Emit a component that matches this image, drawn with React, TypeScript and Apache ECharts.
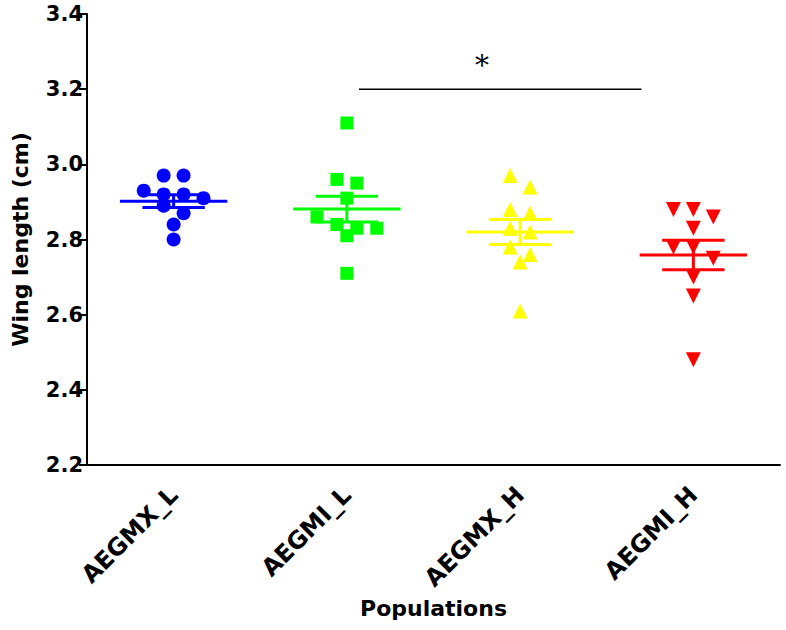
import React, { useEffect, useRef } from "react";
import * as echarts from "echarts";

// ---- data ----
const categories = ["AEGMX_L", "AEGMI_L", "AEGMX_H", "AEGMI_H"];
const aegmxL = [2.97, 2.97, 2.93, 2.92, 2.92, 2.91, 2.89, 2.87, 2.84, 2.8];
const aegmiL = [3.11, 2.96, 2.95, 2.91, 2.86, 2.84, 2.83, 2.83, 2.81, 2.71];
const aegmxH = [2.97, 2.94, 2.88, 2.87, 2.83, 2.82, 2.78, 2.76, 2.74, 2.61];
const aegmiH = [2.88, 2.88, 2.86, 2.83, 2.78, 2.78, 2.75, 2.7, 2.65, 2.48];
const groups = [aegmxL, aegmiL, aegmxH, aegmiH];
const yMin = 2.2;
const yMax = 3.4;
const yStep = 0.2;
const sigFrom = 1;
const sigTo = 3;
const sigY = 3.2;
const sigLabel = "*";

// ---- styles ----
const colors = ["#0000ff", "#00ff00", "#ffff00", "#ff0000"];
const symbols = ["circle", "rect", "triangle", "triangle"];
const symbolRot = [0, 0, 0, 180];
const symbolSizes = [14, 13, 15, 15];
const FONT = "DejaVu Sans";

function swarm(vals: number[], thr: number, step: number): [number, number][] {
  const sorted = [...vals].sort((a, b) => b - a);
  const rows: number[][] = [];
  let cur: number[] = [];
  let start = Infinity;
  for (const v of sorted) {
    if (cur.length === 0 || start - v > thr) {
      if (cur.length) rows.push(cur);
      cur = [v];
      start = v;
    } else cur.push(v);
  }
  if (cur.length) rows.push(cur);
  const out: [number, number][] = [];
  rows.forEach((r) => {
    const n = r.length;
    r.forEach((v, k) => out.push([(k - (n - 1) / 2) * step, v]));
  });
  return out;
}

function mean(a: number[]) {
  return a.reduce((s, v) => s + v, 0) / a.length;
}
function sem(a: number[]) {
  const m = mean(a);
  const sd = Math.sqrt(a.reduce((s, v) => s + (v - m) * (v - m), 0) / (a.length - 1));
  return sd / Math.sqrt(a.length);
}

export default function App() {
  const ref = useRef<HTMLDivElement>(null);
  useEffect(() => {
    if (!ref.current) return;
    const chart = echarts.init(ref.current, null, { renderer: "svg" });
    const scatterSeries = groups.map((g, i) => ({
      type: "scatter",
      xAxisIndex: 1,
      symbol: symbols[i],
      symbolRotate: symbolRot[i],
      symbolSize: symbolSizes[i],
      itemStyle: { color: colors[i], opacity: 1 },
      z: 2,
      data: swarm(g, 0.035, 0.115).map(([dx, v]) => [i + dx, v]),
    }));
    const statData = groups.map((g, i) => [i, mean(g), sem(g)]);
    const option: any = {
      animation: false,
      grid: { left: 87, right: 6, top: 14, bottom: 165 },
      xAxis: [
        {
          type: "category",
          data: categories,
          boundaryGap: true,
          axisLine: { onZero: false, lineStyle: { color: "#000", width: 2 } },
          axisTick: { alignWithLabel: true, length: 8, lineStyle: { color: "#000", width: 2 } },
          axisLabel: {
            rotate: 45,
            color: "#000",
            fontSize: 24,
            fontWeight: "bold",
            fontFamily: FONT,
            margin: 26,
          },
          name: "Populations",
          nameLocation: "middle",
          nameGap: 130,
          nameTextStyle: { color: "#000", fontSize: 22, fontWeight: "bold", fontFamily: FONT },
        },
        { type: "value", min: -0.5, max: 3.5, show: false },
      ],
      yAxis: {
        type: "value",
        min: yMin,
        max: yMax,
        interval: yStep,
        axisLine: { show: true, onZero: false, lineStyle: { color: "#000", width: 2 } },
        axisTick: { show: true, length: 8, lineStyle: { color: "#000", width: 2 } },
        splitLine: { show: false },
        axisLabel: {
          formatter: (v: number) => v.toFixed(1),
          color: "#000",
          fontSize: 21,
          fontWeight: "bold",
          fontFamily: FONT,
          margin: 4,
        },
        name: "Wing length (cm)",
        nameLocation: "middle",
        nameGap: 56,
        nameTextStyle: { color: "#000", fontSize: 22, fontWeight: "bold", fontFamily: FONT },
      },
      series: [
        ...scatterSeries,
        {
          type: "custom",
          xAxisIndex: 1,
          z: 5,
          data: statData,
          renderItem: (params: any, api: any) => {
            const i = api.value(0);
            const m = api.value(1);
            const s = api.value(2);
            const [cx, cy] = api.coord([i, m]);
            const unit = api.size([1, 0])[0];
            const top = api.coord([i, m + s])[1];
            const bot = api.coord([i, m - s])[1];
            const hw = unit * 0.31;
            const cw = unit * 0.18;
            const st = { stroke: colors[i], lineWidth: 3 };
            return {
              type: "group",
              children: [
                { type: "line", shape: { x1: cx - hw, y1: cy, x2: cx + hw, y2: cy }, style: st },
                { type: "line", shape: { x1: cx, y1: top, x2: cx, y2: bot }, style: st },
                { type: "line", shape: { x1: cx - cw, y1: top, x2: cx + cw, y2: top }, style: st },
                { type: "line", shape: { x1: cx - cw, y1: bot, x2: cx + cw, y2: bot }, style: st },
              ],
            };
          },
        },
        {
          type: "custom",
          xAxisIndex: 1,
          z: 5,
          data: [[sigFrom, sigTo, sigY]],
          renderItem: (params: any, api: any) => {
            const a = api.value(0);
            const b = api.value(1);
            const y = api.value(2);
            const p1 = api.coord([a + 0.07, y]);
            const p2 = api.coord([b - 0.3, y]);
            const pt = api.coord([(a + b) / 2 - 0.22, y]);
            return {
              type: "group",
              children: [
                {
                  type: "line",
                  shape: { x1: p1[0], y1: p1[1], x2: p2[0], y2: p2[1] },
                  style: { stroke: "#000", lineWidth: 1.5 },
                },
                {
                  type: "text",
                  x: pt[0],
                  y: pt[1] - 24,
                  style: {
                    text: sigLabel,
                    fill: "#000",
                    fontSize: 28,
                    fontFamily: "DejaVu Serif",
                    align: "center",
                    verticalAlign: "middle",
                  },
                },
              ],
            };
          },
        },
      ],
    };
    chart.setOption(option);
    return () => chart.dispose();
  }, []);
  return (
    <div
      ref={ref}
      style={{ position: "absolute", left: 0, top: 0, width: 786, height: 630, background: "#fff" }}
    />
  );
}
